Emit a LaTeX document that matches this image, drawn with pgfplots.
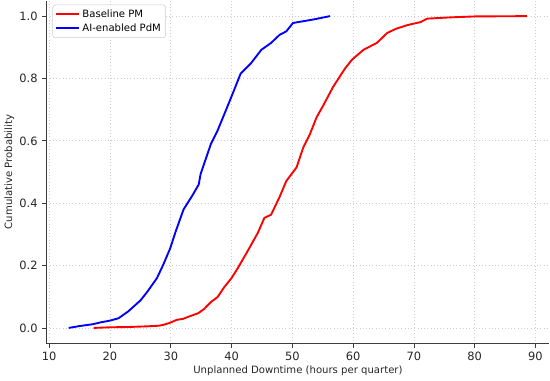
\documentclass[border=0pt]{standalone}
\usepackage{pgfplots}
\pgfplotsset{compat=1.18}
\usepackage{fontspec}
\setmainfont{DejaVu Sans}
\definecolor{gridgray}{RGB}{205,205,205}
\definecolor{spine}{RGB}{60,60,60}

\begin{document}
\begin{tikzpicture}
  \begin{axis}[
    scale only axis,
    width=374pt, height=255pt,
    xmin=9.54, xmax=92.3,
    ymin=-0.05, ymax=1.05,
    axis x line*=bottom, axis y line*=left,
    axis line style={spine, line width=0.8pt},
    xtick={10,20,...,90},
    ytick={0,0.2,0.4,0.6,0.8,1.0},
    yticklabel style={/pgf/number format/.cd, fixed, fixed zerofill, precision=1},
    /pgf/number format/assume math mode=true,
    tick align=outside, major tick length=3pt,
    tick style={spine, line width=0.6pt},
    ticklabel style={font=\fontsize{8.5}{10}\selectfont, text=black!85},
    grid=major,
    grid style={gridgray, dotted, line width=0.6pt},
    xlabel={Unplanned Downtime (hours per quarter)},
    ylabel={Cumulative Probability},
    label style={font=\fontsize{7.5}{9}\selectfont, text=black!85},
    xlabel style={yshift=3pt},
    ylabel style={yshift=-3pt},
    legend pos=north west,
    legend cell align=left,
    legend style={font=\fontsize{7.5}{9}\selectfont, draw=gridgray, rounded corners=2pt,
      at={(0.012,0.988)}, inner sep=1.5pt, row sep=-1pt},
    legend image post style={line width=1.5pt},
  ]
    \addplot[red, line width=1.4pt] coordinates {
      (17.3,0.0) (20,0.002) (23,0.003) (26,0.005) (28.0,0.007) (28.8,0.010)
      (29.8,0.016) (31.0,0.026) (32.0,0.029) (33.2,0.038) (34.5,0.047)
      (35.5,0.061) (36.6,0.083) (37.7,0.099) (38.8,0.131) (40.0,0.160)
      (41.0,0.191) (42.6,0.245) (44.3,0.304) (45.4,0.353) (46.5,0.363)
      (47.9,0.420) (49.0,0.471) (50.7,0.515) (51.8,0.579) (52.9,0.622)
      (54.0,0.676) (55.1,0.714) (56.7,0.773) (58.7,0.833) (59.8,0.860)
      (61.7,0.892) (63.9,0.914) (65.6,0.946) (67.0,0.959) (68.9,0.971)
      (71.1,0.981) (72.2,0.992) (76.0,0.996) (80.0,0.999) (88.6,1.0)
    };
    \addlegendentry{Baseline PM}
    \addplot[blue, line width=1.4pt] coordinates {
      (13.2,0.0) (15.0,0.006) (17.2,0.012) (18.5,0.018) (19.9,0.023)
      (21.4,0.031) (23.0,0.053) (25.0,0.088) (26.1,0.115) (27.7,0.159)
      (28.7,0.200) (29.9,0.255) (30.8,0.309) (32.1,0.380) (33.5,0.423)
      (34.6,0.460) (34.9,0.493) (36.6,0.590) (37.7,0.633) (39.3,0.709)
      (40.4,0.762) (41.5,0.816) (43.2,0.849) (44.9,0.892) (46.5,0.914)
      (47.9,0.940) (49.0,0.951) (50.1,0.978) (53.4,0.989) (56.2,1.0)
    };
    \addlegendentry{AI-enabled PdM}
  \end{axis}
\end{tikzpicture}
\end{document}
